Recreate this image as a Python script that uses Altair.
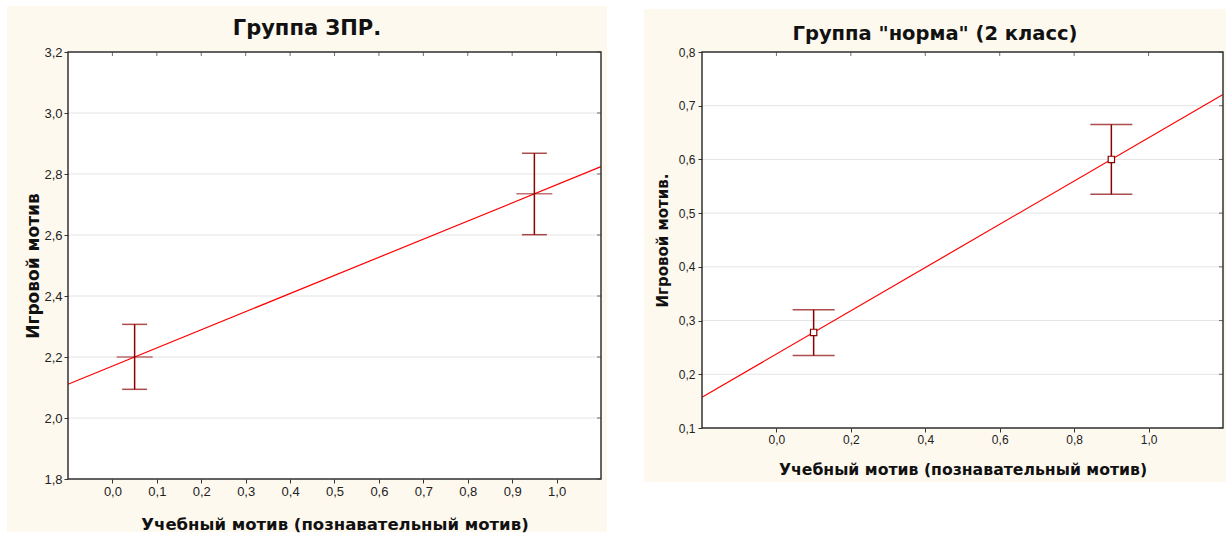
import altair as alt
import pandas as pd

# ---------------- data ----------------
# Left panel: "Группа ЗПР."
left_x = [0.05, 0.95]
left_mean = [2.2, 2.735]
left_lo = [2.094, 2.601]
left_hi = [2.307, 2.868]
left_xticks = [0.0, 0.1, 0.2, 0.3, 0.4, 0.5, 0.6, 0.7, 0.8, 0.9, 1.0]
left_yticks = [1.8, 2.0, 2.2, 2.4, 2.6, 2.8, 3.0, 3.2]
left_xdomain = [-0.1, 1.1]
left_ydomain = [1.8, 3.2]

# Right panel: 'Группа "норма" (2 класс)'
right_x = [0.1, 0.9]
right_mean = [0.278, 0.6]
right_lo = [0.235, 0.535]
right_hi = [0.32, 0.665]
right_xticks = [0.0, 0.2, 0.4, 0.6, 0.8, 1.0]
right_yticks = [0.1, 0.2, 0.3, 0.4, 0.5, 0.6, 0.7, 0.8]
right_xdomain = [-0.2, 1.2]
right_ydomain = [0.1, 0.8]

x_title = "Учебный мотив (познавательный мотив)"

CREAM = "#FEF9EF"
DARKRED = "#8B0000"
COMMA = "replace(format(datum.value, '.1f'), '.', ',')"


def panel(title, xs, means, los, his, xticks, yticks, xdom, ydom, w, h,
          cream, ytitle, ytitle_x, xtitle_y, title_offset, ylabel_pad,
          marker, cap_size, mean_size, title_size, xt_size, yt_size, lab_size):
    df = pd.DataFrame({"x": xs, "m": means, "lo": los, "hi": his})
    one = pd.DataFrame({"a": [0]})
    xt = pd.DataFrame({"v": xticks})
    yt = pd.DataFrame({"v": yticks})
    xsc = alt.Scale(domain=xdom, nice=False, zero=False)
    ysc = alt.Scale(domain=ydom, nice=False, zero=False)

    xaxis = alt.Axis(values=xticks, labelExpr=COMMA, title=x_title, grid=False,
                     domain=False, labelPadding=2, titleY=xtitle_y,
                     titleBaseline="alphabetic", zindex=1,
                     titleFontSize=xt_size, labelFontSize=lab_size)
    yaxis = alt.Axis(values=yticks, labelExpr=COMMA, title=ytitle, grid=False,
                     domain=False, labelPadding=ylabel_pad, titleX=ytitle_x,
                     titleBaseline="alphabetic", titleAngle=-90, zindex=1,
                     titleFontSize=yt_size, labelFontSize=lab_size)

    def X(f):
        return alt.X(f, type="quantitative", scale=xsc, axis=xaxis)

    def Y(f):
        return alt.Y(f, type="quantitative", scale=ysc, axis=yaxis)

    cx0, cx1, cy0, cy1 = cream
    bg = alt.Chart(one).mark_rect(fill=CREAM).encode(
        x=alt.value(cx0), x2=alt.value(cx1), y=alt.value(cy0), y2=alt.value(cy1))
    plotbg = alt.Chart(one).mark_rect(fill="white").encode(
        x=alt.value(0), x2=alt.value(w), y=alt.value(0), y2=alt.value(h))

    grid = alt.Chart(yt).mark_rule(color="#e4e4e4", strokeWidth=1).encode(y=Y("v"))
    top_ticks = alt.Chart(xt).mark_tick(orient="vertical", size=4, thickness=1,
                                        color="#333").encode(
        x=X("v"), y=alt.value(2))
    right_ticks = alt.Chart(yt).mark_tick(orient="horizontal", size=4, thickness=1,
                                          color="#333").encode(
        y=Y("v"), x=alt.value(w - 2))

    reg = alt.Chart(df).transform_regression(
        "x", "m", extent=xdom).mark_line(color="#FF0000", strokeWidth=1.2).encode(
        x=X("x"), y=Y("m"))
    bars = alt.Chart(df).mark_rule(color=DARKRED, strokeWidth=1.5).encode(
        x=X("x"), y=Y("lo"), y2="hi:Q")
    caps = alt.Chart(df).transform_fold(["lo", "hi"], as_=["k", "val"]).mark_tick(
        orient="horizontal", size=cap_size, thickness=1.5, color=DARKRED).encode(
        x=X("x"), y=Y("val"))

    layers = [bg, plotbg, grid, reg, bars, caps]
    if marker:
        layers.append(alt.Chart(df).mark_point(
            shape="square", size=40, filled=True, fill="white", stroke=DARKRED,
            strokeWidth=1.2, opacity=1).encode(x=X("x"), y=Y("m")))
    else:
        layers.append(alt.Chart(df).mark_tick(
            orient="horizontal", size=mean_size, thickness=1.5, color=DARKRED,
            opacity=0.55).encode(x=X("x"), y=Y("m")))

    border = alt.Chart(one).mark_rect(fillOpacity=0, stroke="#333",
                                      strokeWidth=1.5).encode(
        x=alt.value(0), x2=alt.value(w), y=alt.value(0), y2=alt.value(h))
    layers += [border, top_ticks, right_ticks]

    return alt.layer(*layers).properties(
        width=w, height=h,
        title=alt.TitleParams(title, anchor="middle", frame="bounds",
                              baseline="alphabetic", offset=title_offset,
                              fontSize=title_size))


left = panel("Группа ЗПР.", left_x, left_mean, left_lo, left_hi,
             left_xticks, left_yticks, left_xdomain, left_ydomain,
             533, 427, (-61, 539, -46, 480), "Игровой мотив", -30, 50, -50, 2,
             False, 25, 36, 21, 16.5, 17, 13)
right = panel('Группа "норма" (2 класс)', right_x, right_mean, right_lo, right_hi,
              right_xticks, right_yticks, right_xdomain, right_ydomain,
              521, 376, (-58, 524, -43, 430), "Игровой мотив.", -35, 46, -50, 3,
              True, 42, 36, 19.5, 15.7, 15, 12)

chart = alt.hconcat(left, right, spacing=101, bounds="flush").properties(
    padding={"left": 7, "top": 6, "right": 0, "bottom": 2},
    background="white",
).configure_view(strokeWidth=0).configure_axis(
    labelFont="Liberation Sans", labelColor="#222",
    tickColor="#333", tickSize=4, tickWidth=1,
    titleFont="DejaVu Sans", titleFontWeight="bold",
    titleColor="#111",
).configure_title(font="DejaVu Sans", fontWeight="bold", color="#111")

chart.save("out.html", embed_options={"renderer": "svg", "actions": False})
